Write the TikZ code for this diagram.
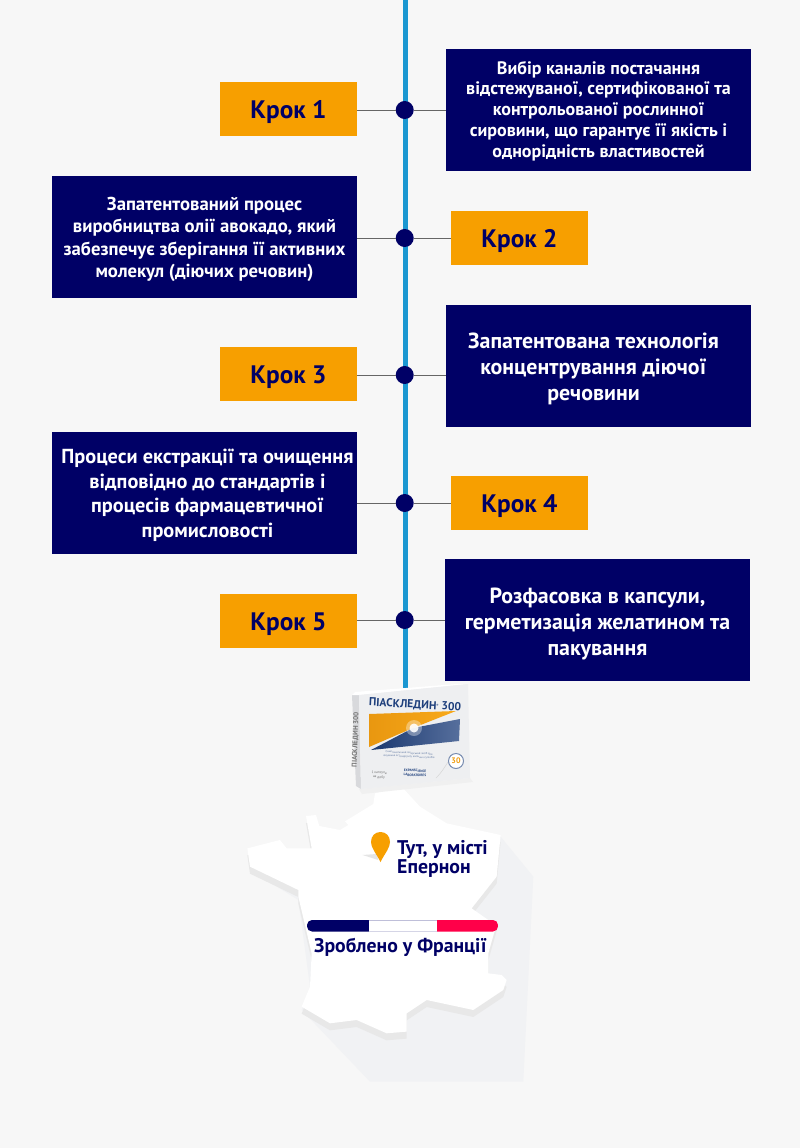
\documentclass[tikz,border=0pt]{standalone}
\usepackage{fontspec}
\setmainfont{PT Sans}
\definecolor{navy}{HTML}{000066}
\definecolor{amber}{HTML}{F79F00}
\definecolor{rail}{HTML}{1B97D1}
\definecolor{pagebg}{HTML}{F7F7F7}
\definecolor{mapshadow}{HTML}{F1F2F4}
\definecolor{flagred}{HTML}{FF0049}
\definecolor{packside}{HTML}{D8D9DC}
\definecolor{packface}{HTML}{EEEFF1}
\definecolor{packblue}{HTML}{1E3F7C}
\tikzset{
  krok/.style={draw=none,fill=amber,text=navy,minimum width=137pt,minimum height=54pt,inner sep=0pt,text height=18pt,text depth=0pt,font=\bfseries\fontsize{25.3}{25}\selectfont},
  infobox/.style={draw=none,fill=navy,minimum width=305pt,minimum height=122pt,inner sep=0pt},
  infotext/.style={text=white,inner sep=0pt,align=center},
  dot/.style={circle,fill=navy,draw=none,minimum size=18pt,inner sep=0pt},
  link/.style={draw=black!60,line width=1pt},
  railline/.style={draw=rail,line width=5pt},
  maptext/.style={text=navy}
}
\newcommand{\franceshape}{(228,108) -- (258,105) -- (268,138) -- (330,150) -- (355,135) -- (345,124) -- (430,72) -- (435,40) -- (515,20) -- (570,80) -- (650,130) -- (812,165) -- (800,290) -- (725,385) -- (775,420) -- (800,432) -- (775,520) -- (775,580) -- (815,585) -- (830,600) -- (820,630) -- (730,690) -- (590,660) -- (530,700) -- (530,755) -- (470,760) -- (380,720) -- (300,730) -- (215,680) -- (240,620) -- (245,520) -- (205,350) -- (205,330) -- (60,260) -- (52,205) -- (150,180) -- (170,205) -- (245,205) -- cycle}
\begin{document}
\begin{tikzpicture}[x=1pt,y=-1pt]
\useasboundingbox (0,0) rectangle (800,1148);
\fill[pagebg] (0,0) rectangle (800,1148);
% rail
\coordinate (railtop) at (405.5,0);
\coordinate (railend) at (405.5,690);
\draw[railline] (railtop) -- (railend);
% map shadows
\begin{scope}[shift={(230,780)},x=0.3333pt,y=-0.3333pt]
\fill[mapshadow] (812,170) -- (910,290) -- (880,905) -- (420,905) -- (215,690) -- (240,620) -- (205,360) -- (60,270) -- (205,340) -- cycle;
\fill[black!9,yshift=-7pt] \franceshape;
\fill[white] \franceshape;
\fill[black!10] (398,225) -- (440,222) -- (445,240) -- cycle;
\end{scope}
% nodes
\node[krok] (k1) at (288.5,109) {Крок 1};
\node[krok] (k2) at (519.5,238) {Крок 2};
\node[krok] (k3) at (288.5,374) {Крок 3};
\node[krok] (k4) at (519.5,503) {Крок 4};
\node[krok] (k5) at (288.5,621) {Крок 5};
\node[infobox] (b1) at (598.5,110) {};
\node[infobox] (b2) at (204.5,237) {};
\node[infobox] (b3) at (598.5,365.5) {};
\node[infobox] (b4) at (204.5,492.5) {};
\node[infobox] (b5) at (597.5,620) {};
\node[infotext,font=\bfseries\fontsize{18}{20.8}\selectfont] (t1) at ([yshift=-1pt]b1.center) {Вибір каналів постачання\\відстежуваної, сертифікованої та\\контрольованої рослинної\\сировини, що гарантує її якість і\\однорідність властивостей};
\node[infotext,font=\bfseries\fontsize{18.7}{22.3}\selectfont] (t2) at ([yshift=-2.5pt]b2.center) {Запатентований процес\\виробництва олії авокадо, який\\забезпечує зберігання її активних\\молекул (діючих речовин)};
\node[infotext,font=\bfseries\fontsize{21.9}{26}\selectfont] (t3) at ([xshift=-5pt,yshift=-3pt]b3.center) {Запатентована технологія\\концентрування діючої\\речовини};
\node[infotext,font=\bfseries\fontsize{20.3}{24.5}\selectfont] (t4) at ([xshift=3pt,yshift=-3pt]b4.center) {Процеси екстракції та очищення\\відповідно до стандартів і\\процесів фармацевтичної\\промисловості};
\node[infotext,font=\bfseries\fontsize{21.9}{26}\selectfont] (t5) at ([yshift=-3.5pt]b5.center) {Розфасовка в капсули,\\герметизація желатином та\\пакування};
\node[dot] (c1) at (404.7,110) {};
\node[dot] (c2) at (404.7,238) {};
\node[dot] (c3) at (404.7,375) {};
\node[dot] (c4) at (404.7,503) {};
\node[dot] (c5) at (404.7,620) {};
\draw[link] (c1) -- (k1.east |- c1);
\draw[link] (c1) -- (b1.west |- c1);
\draw[link] (c2) -- (b2.east |- c2);
\draw[link] (c2) -- (k2.west |- c2);
\draw[link] (c3) -- (k3.east |- c3);
\draw[link] (c3) -- (b3.west |- c3);
\draw[link] (c4) -- (b4.east |- c4);
\draw[link] (c4) -- (k4.west |- c4);
\draw[link] (c5) -- (k5.east |- c5);
\draw[link] (c5) -- (b5.west |- c5);
% pack
\fill[black!6] (359,789) -- (470,778) -- (473,782) -- (362,794) -- cycle;
\fill[packside] (352,695) -- (359,695) -- (361,789) -- (356,786) -- cycle;
\fill[white] (352,695) -- (355,692) -- (457,684) -- (468,684) -- (359,695) -- cycle;
\fill[packface] (359,695) -- (468,684) -- (470,778) -- (361,789) -- cycle;
\shade[left color=amber!75!brown,right color=amber!90!white] (369,714) -- (456,711) -- (413,728) -- (369,747) -- cycle;
\shade[left color=packblue!90!black,right color=packblue!75!white] (460,719) -- (459,741) -- (371,750) -- (413,728) -- cycle;
\fill[white,opacity=.35] (414,728) circle (8pt);
\fill[white,opacity=.9] (414,728) circle (4.5pt);
\node[rotate=-3,text=packblue,font=\bfseries\fontsize{11.5}{12}\selectfont,inner sep=0pt] (packname) at (415,705) {ПІАСКЛЕДИН\raisebox{3pt}{\fontsize{3}{3}\selectfont®} 300};
\node[rotate=88,text=black!55,font=\bfseries\fontsize{7}{7}\selectfont,inner sep=0pt] (packsidename) at (355.5,740) {ПІАСКЛЕДИН 300};
\node[rotate=-3,text=packblue!70,font=\fontsize{2.8}{3.6}\selectfont,inner sep=0pt,align=center] (packsub) at (409,755) {Симптоматичний лікарський засіб для\\лікування остеоартриту колінних суглобів};
\node[rotate=-3,text=black!55,font=\fontsize{3.6}{4.4}\selectfont,inner sep=0pt,align=center] (packdose) at (379,775) {1 капсула\\на добу};
\node[rotate=-3,text=packblue,font=\bfseries\fontsize{3.4}{4.5}\selectfont,inner sep=0pt,align=center] (packlab) at (415,773) {EXPANSCIENCE\\LABORATOIRES};
\draw[black!15,line width=.6pt] (436,778) .. controls (442,772) and (444,768) .. (448,762);
\node[circle,draw=packblue!60,line width=1pt,fill=white,minimum size=15pt,inner sep=0pt,text=amber!85!brown,font=\bfseries\fontsize{8}{8}\selectfont] (packcount) at (456,761) {30};
% pin
\fill[amber] (380.5,862) .. controls (376,853) and (371,848) .. (371,842) .. controls (371,836) and (375,832) .. (380.5,832) .. controls (386,832) and (390,836) .. (390,842) .. controls (390,848) and (385,853) .. (380.5,862) -- cycle;
\node[maptext,font=\bfseries\fontsize{19.8}{19.5}\selectfont,anchor=north west,align=left,inner sep=0pt] (place) at (397,840) {Тут, у місті\\Епернон};
% flag
\begin{scope}
\clip[rounded corners=5pt] (307,920) rectangle (498,931.5);
\fill[navy] (307,920) rectangle (368.5,931.5);
\fill[white] (368.5,920) rectangle (436.5,931.5);
\fill[flagred] (436.5,920) rectangle (498,931.5);
\draw[navy!25,line width=.6pt] (368.5,920) -- (436.5,920) (368.5,931.5) -- (436.5,931.5);
\end{scope}
\node[maptext,font=\bfseries\fontsize{19.75}{20}\selectfont,inner sep=0pt] (made) at (400.5,947) {Зроблено у Франції};
\end{tikzpicture}
\end{document}
